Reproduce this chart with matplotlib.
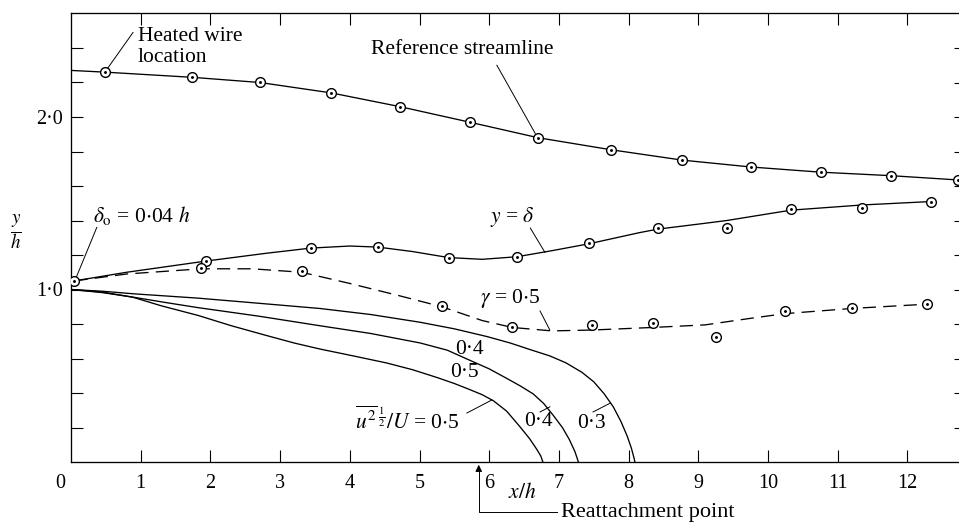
import matplotlib
matplotlib.use("Agg")
import matplotlib.pyplot as plt
from matplotlib.ticker import FixedLocator

plt.rcParams['font.family'] = ['Liberation Serif', 'DejaVu Serif']
plt.rcParams['mathtext.fontset'] = 'stix'

# ---- measured points (x/h, y/h) ----
ref_x = [0.49, 1.74, 2.71, 3.73, 4.72, 5.72, 6.70, 7.75, 8.77, 9.76, 10.76, 11.76, 12.73]
ref_y = [2.26, 2.23, 2.20, 2.14, 2.06, 1.97, 1.88, 1.81, 1.75, 1.71, 1.68, 1.66, 1.635]
ref_line_x = [0.0] + ref_x
ref_line_y = [2.27] + ref_y

delta_x = [0.05, 1.94, 3.44, 4.40, 5.42, 6.40, 7.43, 8.42, 9.41, 10.33, 11.35, 12.34]
delta_y = [1.05, 1.165, 1.24, 1.246, 1.18, 1.19, 1.27, 1.357, 1.357, 1.467, 1.47, 1.51]
delta_line_x = [0.05, 0.8, 1.94, 2.8, 3.44, 4.0, 4.4, 4.9, 5.42, 5.9, 6.4, 6.9, 7.43, 8.16,
                8.42, 9.02, 9.41, 10.33, 11.35, 12.34]
delta_line_y = [1.05, 1.10, 1.165, 1.21, 1.24, 1.252, 1.246, 1.22, 1.185, 1.175, 1.19, 1.225,
                1.265, 1.33, 1.35, 1.38, 1.40, 1.46, 1.49, 1.51]

gamma_x = [1.87, 3.31, 5.32, 6.33, 7.47, 8.35, 9.25, 10.24, 11.2, 12.28]
gamma_y = [1.125, 1.107, 0.904, 0.78, 0.794, 0.806, 0.725, 0.875, 0.893, 0.916]
gamma_line_x = [0.05, 0.8, 1.87, 2.6, 3.31, 4.0, 4.7, 5.32, 5.9, 6.33, 6.9, 7.47, 8.35,
                9.1, 9.7, 10.24, 11.2, 12.28]
gamma_line_y = [1.05, 1.09, 1.12, 1.12, 1.10, 1.035, 0.965, 0.90, 0.82, 0.78, 0.76, 0.765,
                0.78, 0.795, 0.83, 0.86, 0.89, 0.915]

# turbulence intensity contours u'/U = 0.3, 0.4, 0.5
u03_x = [0.0, 0.45, 0.9, 1.82, 2.7, 3.57, 4.3, 5.01, 5.5, 5.97, 6.3, 6.6, 6.87, 7.1, 7.33,
         7.5, 7.65, 7.78, 7.89, 7.98, 8.04, 8.08, 8.09]
u03_y = [1.0, 0.99, 0.975, 0.95, 0.92, 0.89, 0.855, 0.81, 0.772, 0.727, 0.69, 0.65, 0.615,
         0.575, 0.52, 0.465, 0.395, 0.32, 0.235, 0.15, 0.08, 0.02, 0.0]
u04_x = [0.0, 0.45, 0.9, 1.35, 1.82, 2.7, 3.57, 4.3, 5.01, 5.4, 5.72, 6.0, 6.25, 6.45, 6.63,
         6.78, 6.92, 7.05, 7.15, 7.23, 7.28]
u04_y = [1.0, 0.982, 0.955, 0.925, 0.895, 0.845, 0.79, 0.745, 0.69, 0.648, 0.59, 0.54, 0.485,
         0.44, 0.395, 0.34, 0.27, 0.20, 0.13, 0.06, 0.0]
u05_x = [0.0, 0.45, 0.88, 1.3, 1.82, 2.3, 2.78, 3.2, 3.57, 4.05, 4.53, 4.9, 5.25, 5.5, 5.72,
         5.9, 6.06, 6.25, 6.44, 6.58, 6.68, 6.74, 6.77]
u05_y = [1.0, 0.985, 0.956, 0.905, 0.85, 0.79, 0.736, 0.69, 0.655, 0.615, 0.574, 0.535, 0.49,
         0.455, 0.42, 0.39, 0.355, 0.295, 0.205, 0.135, 0.075, 0.035, 0.0]

x_ticks = list(range(1, 13))
x_tick_labels = [str(v) for v in x_ticks]
y_ticks = [0.2, 0.4, 0.6, 0.8, 1.0, 1.2, 1.4, 1.6, 1.8, 2.0, 2.2, 2.4]
y_tick_labels = ['1\u00b70' if abs(v - 1.0) < 1e-9 else ('2\u00b70' if abs(v - 2.0) < 1e-9 else '')
                 for v in y_ticks]
reattach_x = 5.85

FS = 15.5      # annotation text
FS_TICK = 14.5 # tick numbers
LW = 0.95

fig = plt.figure(figsize=(9.59, 5.23), dpi=100)
ax = fig.add_axes([71 / 959, 61 / 523, 888 / 959, 449 / 523])
ax.set_xlim(0, 888 / 69.7)
ax.set_ylim(0, 449 / 172.5)

for s in ['left', 'bottom', 'top']:
    ax.spines[s].set_linewidth(0.95)
ax.spines['right'].set_visible(False)

ax.xaxis.set_major_locator(FixedLocator(x_ticks))
ax.set_xticklabels(x_tick_labels, fontsize=FS_TICK)
ax.yaxis.set_major_locator(FixedLocator(y_ticks))
ax.set_yticklabels(y_tick_labels, fontsize=FS_TICK)
ax.tick_params(axis='both', direction='in', length=8.5, width=0.8, top=True)
ax.tick_params(axis='x', pad=9)
ax.tick_params(axis='y', pad=6)

# short inner ticks on the right-hand edge
ax2 = ax.twinx()
ax2.set_ylim(ax.get_ylim())
ax2.yaxis.set_major_locator(FixedLocator(y_ticks))
ax2.tick_params(axis='y', direction='in', length=3.5, width=0.8, labelright=False)
for s in ax2.spines.values():
    s.set_visible(False)

mk = dict(marker='o', ms=7, mfc='white', mec='black', mew=1.0, ls='none', zorder=4)
dot = dict(marker='o', ms=1.1, color='black', ls='none', zorder=5)

ax.plot(ref_line_x, ref_line_y, color='black', lw=LW)
ax.plot(ref_x, ref_y, **mk)
ax.plot(ref_x, ref_y, **dot)

ax.plot(delta_line_x, delta_line_y, color='black', lw=LW)
ax.plot(delta_x, delta_y, **mk)
ax.plot(delta_x, delta_y, **dot)

ax.plot(gamma_line_x, gamma_line_y, color='black', lw=LW, dashes=(10, 5.5))
ax.plot(gamma_x, gamma_y, **mk)
ax.plot(gamma_x, gamma_y, **dot)

for cx, cy in [(u03_x, u03_y), (u04_x, u04_y), (u05_x, u05_y)]:
    ax.plot(cx, cy, color='black', lw=LW)

lead = dict(color='black', lw=0.7)

# annotations
ax.text(0.96, 2.52, 'Heated wire\nlocation', fontsize=FS, ha='left', va='top', linespacing=1.15)
ax.plot([0.53, 0.89], [2.285, 2.49], **lead)

ax.text(5.62, 2.39, 'Reference streamline', fontsize=FS, ha='center', va='center')
ax.plot([6.11, 6.66], [2.30, 1.905], **lead)

ax.text(6.33, 1.42, r'$y$ = $\delta$', fontsize=FS, ha='center', va='center')
ax.plot([6.59, 6.80], [1.356, 1.215], **lead)

ax.text(6.30, 0.95, r'$\gamma$ = 0$\cdot$5', fontsize=FS, ha='center', va='center')
ax.plot([6.73, 6.87], [0.875, 0.765], **lead)

ax.text(0.31, 1.43, r'$\delta_\mathrm{o}$ = 0$\cdot$04 $h$', fontsize=FS, ha='left', va='center')
ax.plot([0.37, 0.08], [1.36, 1.075], **lead)

ax.text(5.72, 0.65, '0\u00b74', fontsize=FS, ha='center', va='center')
ax.text(5.65, 0.516, '0\u00b75', fontsize=FS, ha='center', va='center')
ax.text(4.82, 0.243, r'$\overline{u^{2}}^{\,\frac{1}{2}}/U$ = 0$\cdot$5', fontsize=FS,
        ha='center', va='center')
ax.plot([5.68, 6.04], [0.284, 0.36], **lead)
ax.text(6.70, 0.232, '0\u00b74', fontsize=FS, ha='center', va='center')
ax.plot([6.73, 6.87], [0.29, 0.32], **lead)
ax.text(7.46, 0.226, '0\u00b73', fontsize=FS, ha='center', va='center')
ax.plot([7.49, 7.73], [0.29, 0.34], **lead)

# origin label and axis titles
ax.annotate('0', xy=(0, 0), xytext=(-11, -21), textcoords='offset pixels',
            fontsize=FS_TICK, ha='center', va='center', annotation_clip=False)
ax.text(6.47, -0.18, r'$x/h$', fontsize=FS, ha='center', va='center', clip_on=False)
fig.text(16 / 959, 1 - 232 / 523, r'$\frac{y}{h}$', fontsize=FS + 4, ha='center', va='center')

# reattachment marker
ax.plot([reattach_x, reattach_x, 6.97], [-0.04, -0.29, -0.29], color='black', lw=0.7,
        clip_on=False)
ax.annotate('', xy=(reattach_x, 0.0), xytext=(reattach_x, -0.055),
            arrowprops=dict(arrowstyle='-|>', color='black', lw=0.7, mutation_scale=10),
            annotation_clip=False)
ax.text(7.03, -0.29, 'Reattachment point', fontsize=FS + 0.5, ha='left', va='center',
        clip_on=False)

fig.savefig('out.png', dpi=100)
